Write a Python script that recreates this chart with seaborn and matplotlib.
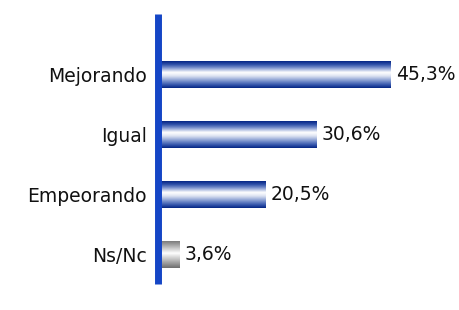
import numpy as np
import pandas as pd
import seaborn as sns
import matplotlib.pyplot as plt
from matplotlib.colors import LinearSegmentedColormap

# chart data
categories = ["Mejorando", "Igual", "Empeorando", "Ns/Nc"]
values = [45.3, 30.6, 20.5, 3.6]
labels = ["45,3%", "30,6%", "20,5%", "3,6%"]
shades = ["blue", "blue", "blue", "gray"]

sns.set_style("white")
plt.rcParams['font.family'] = ['DejaVu Sans']

df = pd.DataFrame({"cat": categories, "val": values})

fig = plt.figure(figsize=(4.6, 3.1), dpi=100)
ax = fig.add_axes([157.5 / 460, 26 / 310, 302.5 / 460, 270 / 310])

sns.barplot(data=df, x="val", y="cat", orient="h", color="#1a3f9e",
            width=0.45, ax=ax)

# vertical gradients for the bars
blue_cmap = LinearSegmentedColormap.from_list("bl", [
    (0.0, "#062685"), (0.12, "#2f50a8"), (0.25, "#7f95cf"), (0.42, "#ffffff"),
    (0.55, "#dfe5f3"), (0.75, "#7890cc"), (0.9, "#2f50a8"), (1.0, "#062685")])
gray_cmap = LinearSegmentedColormap.from_list("gr", [
    (0.0, "#7c7c7c"), (0.45, "#ffffff"), (1.0, "#6e6e6e")])
grad = np.linspace(0, 1, 64).reshape(-1, 1)

for patch, shade in zip(ax.patches, shades):
    x0, y0 = patch.get_x(), patch.get_y()
    w, h = patch.get_width(), patch.get_height()
    cmap = blue_cmap if shade == "blue" else gray_cmap
    im = ax.imshow(grad, cmap=cmap, aspect="auto", origin="upper",
                   extent=[x0, x0 + w, y0 + h, y0], zorder=2,
                   interpolation="bilinear")
    im.set_clip_path(patch)
    patch.set_facecolor("none")
    patch.set_edgecolor("none")

ax.bar_label(ax.containers[0], labels=labels, padding=4, fontsize=13.5,
             color="#111111")

ax.set_xlim(-0.69, 58.9)
ax.set_ylim(3.5, -1.0)
ax.set_xlabel("")
ax.set_ylabel("")
ax.set_xticks([])
ax.tick_params(axis="y", length=0, pad=7.5, labelsize=13.5,
               labelcolor="#111111")

for side in ["top", "right", "bottom"]:
    ax.spines[side].set_visible(False)
ax.spines["left"].set_color("#1546c6")
ax.spines["left"].set_linewidth(5)
ax.spines["left"].set_capstyle("butt")

fig.savefig("out.png", dpi=100, facecolor="white")
